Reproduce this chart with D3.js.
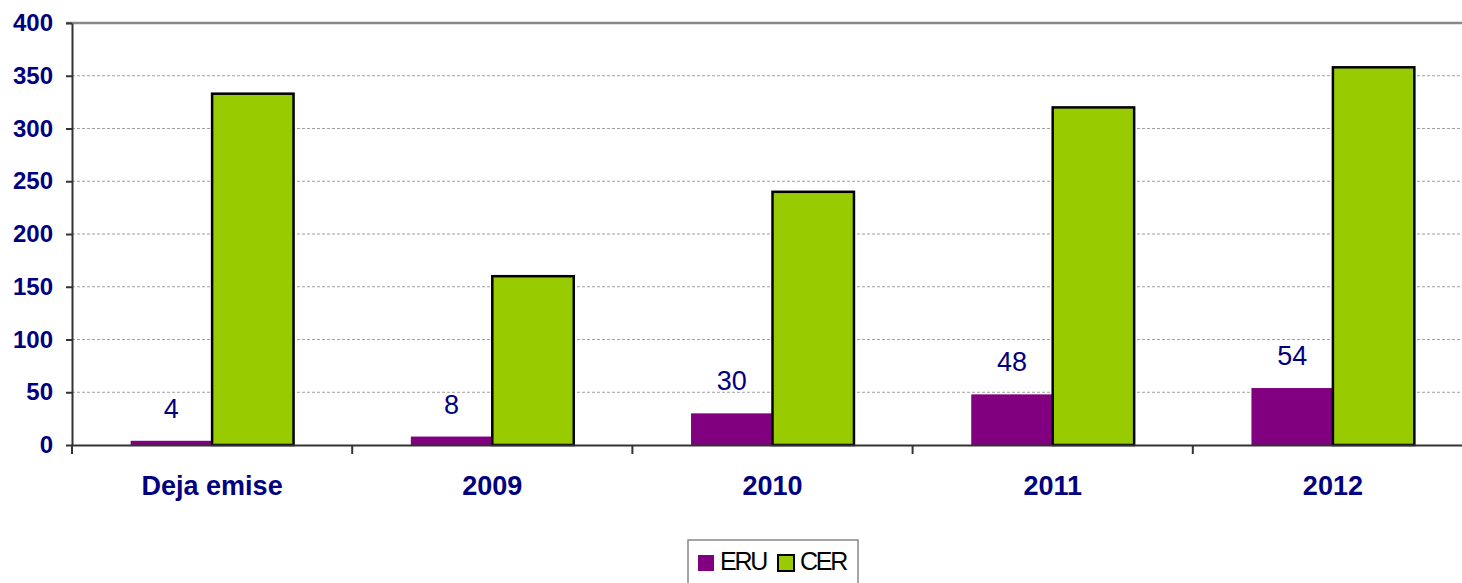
<!DOCTYPE html>
<html>
<head>
<meta charset="utf-8">
<script src="https://d3js.org/d3.v7.min.js"></script>
<style>
  body { margin: 0; background: #fff; }
  text { font-family: Arial, "Liberation Sans", sans-serif; }
</style>
</head>
<body>
<svg id="chart" width="1462" height="583"></svg>
<script>
var categories = ["Deja emise", "2009", "2010", "2011", "2012"];
var seriesNames = ["ERU", "CER"];
var eru = [4, 8, 30, 48, 54];
var cer = [333, 160, 240, 320, 358];
var yTicks = [0, 50, 100, 150, 200, 250, 300, 350, 400];
var colors = ["#800080", "#99CC00"];

var svg = d3.select("#chart");
var mLeft = 72, mTop = 23, plotW = 1401, plotH = 422;

var x = d3.scaleBand().domain(categories).range([mLeft, mLeft + plotW]);
var groupW = x.bandwidth() / 1.72;
var inner = d3.scaleBand().domain(seriesNames).range([0, groupW]);
var groupOffset = (x.bandwidth() - groupW) / 2;
var y = d3.scaleLinear().domain([0, 400]).range([mTop + plotH, mTop]);

// gridlines
svg.append("g").selectAll("line")
  .data(yTicks.filter(function(d) { return d > 0 && d < 400; }))
  .enter().append("line")
  .attr("x1", mLeft).attr("x2", 1462)
  .attr("y1", function(d) { return y(d); })
  .attr("y2", function(d) { return y(d); })
  .attr("stroke", "#a0a0a0")
  .attr("stroke-width", 1)
  .attr("stroke-dasharray", "3,2");

// top border
svg.append("line")
  .attr("x1", mLeft - 6).attr("x2", 1462)
  .attr("y1", y(400)).attr("y2", y(400))
  .attr("stroke", "#888").attr("stroke-width", 2.5);

var data = categories.map(function(c, i) {
  return { cat: c, values: [eru[i], cer[i]] };
});

// bars
var groups = svg.append("g").selectAll("g")
  .data(data).enter().append("g")
  .attr("transform", function(d) { return "translate(" + (x(d.cat) + groupOffset) + ",0)"; });

groups.selectAll("rect")
  .data(function(d) { return d.values.map(function(v, i) { return { s: seriesNames[i], v: v, i: i }; }); })
  .enter().append("rect")
  .attr("x", function(d) { return inner(d.s); })
  .attr("y", function(d) { return y(d.v); })
  .attr("width", inner.bandwidth())
  .attr("height", function(d) { return y(0) - y(d.v); })
  .attr("fill", function(d) { return colors[d.i]; })
  .attr("stroke", function(d) { return d.i === 1 ? "#000" : "none"; })
  .attr("stroke-width", 2.5);

// ERU labels
groups.append("text")
  .attr("x", inner("ERU") + inner.bandwidth() / 2)
  .attr("y", function(d) { return y(d.values[0]) - 23; })
  .attr("text-anchor", "middle")
  .attr("fill", "#000080")
  .style("font-size", "27px")
  .text(function(d) { return d.values[0]; });

// y axis
var yAxis = svg.append("g")
  .attr("transform", "translate(" + mLeft + ",0)")
  .call(d3.axisLeft(y).tickValues(yTicks).tickSize(6).tickSizeOuter(0));
yAxis.select(".domain").attr("stroke", "#333").attr("stroke-width", 2);
yAxis.selectAll(".tick line").attr("stroke", "#333").attr("stroke-width", 2);
yAxis.selectAll(".tick text")
  .attr("x", -19)
  .attr("fill", "#000080")
  .style("font-size", "24px")
  .style("font-weight", "bold")
  .style("font-family", "Arial, 'Liberation Sans', sans-serif");

// x axis
var xAxis = svg.append("g")
  .attr("transform", "translate(0," + y(0) + ")")
  .call(d3.axisBottom(x).tickSize(0).tickSizeOuter(0));
xAxis.select(".domain").attr("stroke", "#333").attr("stroke-width", 2);
xAxis.selectAll(".tick text")
  .attr("y", 31)
  .attr("fill", "#000080")
  .style("font-size", "27px")
  .style("font-weight", "bold")
  .style("font-family", "Arial, 'Liberation Sans', sans-serif");
xAxis.selectAll(".sep")
  .data(categories)
  .enter().append("line")
  .attr("x1", function(d) { return x(d); })
  .attr("x2", function(d) { return x(d); })
  .attr("y1", 0).attr("y2", 9)
  .attr("stroke", "#333").attr("stroke-width", 2);

// legend
var lg = svg.append("g").attr("transform", "translate(688,540)");
lg.append("rect").attr("x", 0).attr("y", 0).attr("width", 170).attr("height", 50)
  .attr("fill", "#fff").attr("stroke", "#888").attr("stroke-width", 1.5);
var items = lg.selectAll(".item").data(seriesNames).enter().append("g")
  .attr("transform", function(d, i) { return "translate(" + (10 + i * 80) + ",0)"; });
items.append("rect")
  .attr("x", 0).attr("y", 15).attr("width", 16).attr("height", 16)
  .attr("fill", function(d, i) { return colors[i]; })
  .attr("stroke", function(d, i) { return i === 1 ? "#000" : "none"; })
  .attr("stroke-width", 2);
items.append("text")
  .attr("x", 22).attr("y", 30)
  .style("font-size", "25px")
  .style("letter-spacing", "-2.2px")
  .attr("fill", "#000")
  .text(function(d) { return d; });
</script>
</body>
</html>
